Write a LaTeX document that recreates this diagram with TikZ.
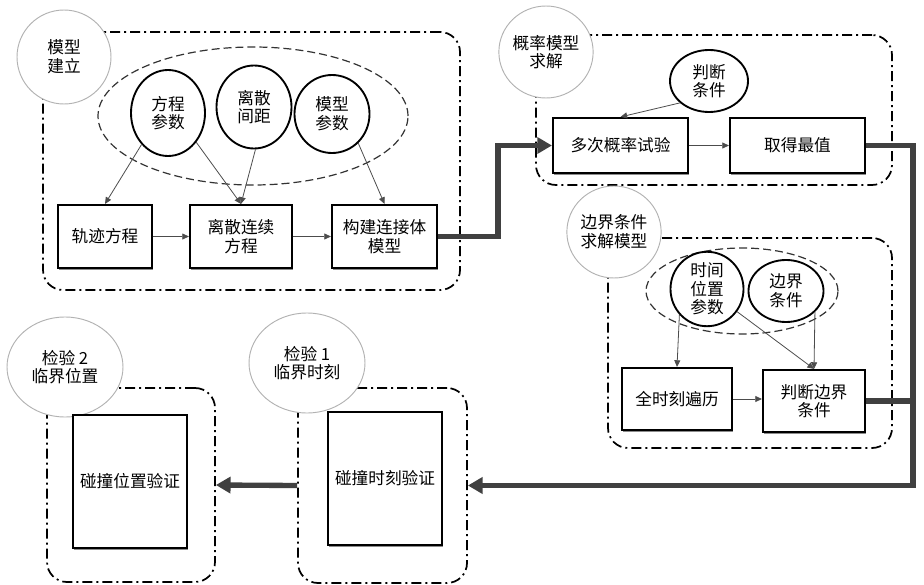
\documentclass[tikz,border=0pt]{standalone}
\usepackage{fontspec}
\setmainfont{Noto Sans CJK SC}
\usetikzlibrary{shapes.geometric,arrows.meta,shadows}
\tikzset{
  grp/.style={draw=black, line width=1.3pt, dash pattern=on 7.5pt off 3pt on 1.5pt off 3pt, rounded corners=15pt, inner sep=0pt},
  lab/.style={ellipse, draw=gray!60, line width=0.7pt, fill=white, align=center, inner sep=0pt},
  par/.style={ellipse, draw=black, line width=1.4pt, fill=white, align=center, inner sep=0pt},
  grpell/.style={ellipse, draw=black!80, line width=0.9pt, dash pattern=on 6pt off 3pt, inner sep=0pt},
  box/.style={draw=black, line width=1.6pt, fill=white, align=center, inner sep=0pt,
    drop shadow={shadow xshift=0.8pt, shadow yshift=-1.8pt, fill=black!45, opacity=1}},
  ln/.style={draw=black!70, line width=0.6pt, -{Triangle[length=5pt,width=4.5pt]}},
  fat/.style={draw=black!75, line width=4pt},
  fata/.style={fat, -{Triangle[length=11pt,width=12pt]}},
}
\begin{document}
\begin{tikzpicture}[x=0.75pt, y=-0.75pt, every node/.style={font=\fontsize{12.5}{14}\selectfont}]
\useasboundingbox (0,0) rectangle (924,585);
% containers
\node[grp, minimum width=312.75pt, minimum height=193.5pt] (C1) at (251.5,161) {};
\node[grp, minimum width=267pt, minimum height=112.5pt] (C2) at (714,110) {};
\node[grp, minimum width=213pt, minimum height=157.5pt] (C3) at (750,343) {};
\node[grp, minimum width=126pt, minimum height=145.5pt] (C4) at (131,485) {};
\node[grp, minimum width=126.75pt, minimum height=146.25pt] (C5) at (382.5,485.5) {};
% dashed group ellipses
\node[grpell, minimum width=232.5pt, minimum height=103.5pt] (E1) at (253,116) {};
\node[grpell, minimum width=144pt, minimum height=64.5pt] (E2) at (742,291) {};
% label circles
\node[lab, minimum width=70.5pt, minimum height=70.5pt] (L1) at (64,57) {模型\\建立};
\node[lab, minimum width=69pt, minimum height=69pt] (L2) at (546,52) {概率模型\\求解};
\node[lab, minimum width=69pt, minimum height=69pt] (L3) at (614,232) {边界条件\\求解模型};
\node[lab, minimum width=87pt, minimum height=75pt] (L4) at (65,367) {检验 2\\临界位置};
\node[lab, minimum width=87pt, minimum height=75pt] (L5) at (307,363) {检验 1\\临界时刻};
% parameter circles
\node[par, minimum width=55.5pt, minimum height=64.5pt] (p1) at (168,113) {方程\\参数};
\node[par, minimum width=56.25pt, minimum height=62.25pt] (p2) at (254,107) {离散\\间距};
\node[par, minimum width=56.25pt, minimum height=58.5pt] (p3) at (332,114) {模型\\参数};
\node[par, minimum width=58.5pt, minimum height=46.5pt] (p4) at (709,81) {判断\\条件};
\node[par, minimum width=54.75pt, minimum height=43.5pt] (p5) at (707,289) {时间\\位置\\参数};
\node[par, minimum width=56.25pt, minimum height=46.5pt] (p6) at (786,291) {边界\\条件};
% boxes
\node[box, minimum width=70.5pt, minimum height=47.25pt] (b1) at (105,236.5) {轨迹方程};
\node[box, minimum width=76.5pt, minimum height=47.25pt] (b2) at (241,236.5) {离散连续\\方程};
\node[box, minimum width=78.75pt, minimum height=47.25pt] (b3) at (384.5,236.5) {构建连接体\\模型};
\node[box, minimum width=101.25pt, minimum height=41.25pt] (b4) at (620.5,145.5) {多次概率试验};
\node[box, minimum width=101.25pt, minimum height=41.25pt] (b5) at (797.5,145.5) {取得最值};
\node[box, minimum width=82.5pt, minimum height=46.5pt] (b6) at (677,399) {全时刻遍历};
\node[box, minimum width=76.5pt, minimum height=46.5pt] (b7) at (814,401) {判断边界\\条件};
\node[box, minimum width=85.5pt, minimum height=99.75pt] (b8) at (130,481.5) {碰撞位置验证};
\node[box, minimum width=85.5pt, minimum height=99.75pt] (b9) at (385,478.5) {碰撞时刻验证};
% thin connectors
\draw[ln] (p1.230) -- (b1.north);
\draw[ln] (p1.314) -- (b2.north);
\draw[ln] (p2.272) -- (b2.north);
\draw[ln] (p3.312) -- (b3.north);
\draw[ln] (b1.east) -- (b2.west);
\draw[ln] (b2.east) -- (b3.west);
\draw[ln] (p4.217) -- (b4.north);
\draw[ln] (b4.east) -- (b5.west);
\draw[ln] (p5.223) -- (b6.north);
\draw[ln] (p5.323) -- (b7.north);
\draw[ln] (p6.324) -- (b7.north);
\draw[ln] (b6.east) -- (b7.west |- b6.east);
% thick connectors
\coordinate (rc) at (913,485.5);
\draw[fata] (b3.east) -- ++(60,0) |- (b4.west);
\draw[fata] (b5.east) -| (rc) -- (C5.east);
\draw[fat] (b7.east) -- (b7.east -| rc);
\draw[fata] (C5.west) -- (C4.east);
\end{tikzpicture}
\end{document}
